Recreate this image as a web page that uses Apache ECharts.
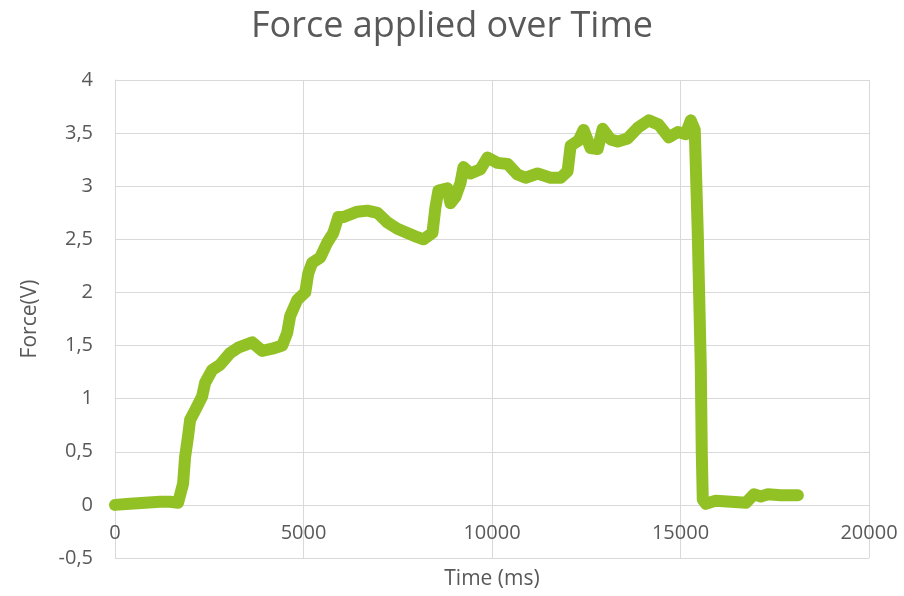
<!DOCTYPE html>
<html>
<head>
<meta charset="utf-8">
<title>Force applied over Time</title>
<script src="https://cdn.jsdelivr.net/npm/echarts@6/dist/echarts.min.js"></script>
<style>
  html, body { margin: 0; padding: 0; background: #ffffff; }
  #chart { width: 904px; height: 596px; }
</style>
</head>
<body>
<div id="chart"></div>
<script>
// Sensor trace: time stamps (ms) and measured force (V)
const timeMs = [
  0, 398, 797, 1195, 1461, 1673, 1726, 1806, 1859, 1939, 1992, 2125, 2311, 2390,
  2576, 2789, 3054, 3267, 3639, 3904, 4170, 4436, 4568, 4648, 4834, 5046, 5126,
  5232, 5445, 5631, 5790, 5923, 6056, 6428, 6693, 6959, 7224, 7490, 7756, 8021,
  8181, 8420, 8499, 8579, 8818, 8898, 9031, 9163, 9243, 9429, 9695, 9880, 10146,
  10412, 10677, 10890, 11208, 11554, 11819, 12005, 12085, 12297, 12430, 12616,
  12802, 12935, 13147, 13333, 13599, 13865, 14157, 14422, 14688, 14927, 15139,
  15272, 15378, 15458, 15538, 15564, 15591, 15671, 15936, 16335, 16733, 16946,
  17131, 17317, 17663, 18114
];
const forceV = [
  0.00, 0.01, 0.02, 0.03, 0.03, 0.02, 0.02, 0.20, 0.45, 0.65, 0.80, 0.89, 1.02, 1.15,
  1.27, 1.32, 1.43, 1.48, 1.53, 1.45, 1.47, 1.50, 1.62, 1.78, 1.93, 2.00, 2.18,
  2.28, 2.33, 2.47, 2.56, 2.71, 2.71, 2.76, 2.77, 2.75, 2.66, 2.60, 2.56, 2.52,
  2.50, 2.56, 2.80, 2.96, 2.98, 2.84, 2.90, 3.03, 3.18, 3.12, 3.16, 3.27, 3.22,
  3.21, 3.11, 3.08, 3.12, 3.08, 3.08, 3.14, 3.38, 3.43, 3.53, 3.36,
  3.35, 3.54, 3.44, 3.42, 3.45, 3.55, 3.62, 3.58, 3.46, 3.51, 3.49,
  3.62, 3.53, 2.56, 1.30, 0.50, 0.05, 0.01, 0.04, 0.03, 0.02, 0.10,
  0.08, 0.10, 0.09, 0.09
];

// Axis ranges and ticks
const xTicks = { min: 0, max: 20000, step: 5000 };
const yTicks = { min: -0.5, max: 4, step: 0.5 };

const textColor = '#595959';
const gridColor = '#D9D9D9';
const lineColor = '#92C125';
const fontFamily = '"Open Sans", "DejaVu Sans", sans-serif';

const CHART_H = 596;
const gridBox = { left: 115, right: 35, top: 80, bottom: 38 };

// Lift the time axis from the plot's bottom edge up to the zero force line
const plotHeight = CHART_H - gridBox.top - gridBox.bottom;
const zeroLift = plotHeight * (0 - yTicks.min) / (yTicks.max - yTicks.min);

const points = timeMs.map((t, i) => [t, forceV[i]]);

const chart = echarts.init(document.getElementById('chart'), null, { renderer: 'canvas' });
chart.setOption({
  animation: false,
  backgroundColor: '#ffffff',
  textStyle: { fontFamily: fontFamily, color: textColor },
  title: {
    text: 'Force applied over Time',
    left: 'center',
    top: 4,
    textStyle: { fontFamily: fontFamily, fontSize: 36, fontWeight: 'normal', color: textColor }
  },
  grid: Object.assign({ containLabel: false, outerBoundsMode: 'none' }, gridBox),
  xAxis: {
    type: 'value',
    min: xTicks.min,
    max: xTicks.max,
    interval: xTicks.step,
    offset: -zeroLift,
    name: 'Time (ms)',
    nameLocation: 'middle',
    nameGap: 64,
    nameTextStyle: { fontSize: 21, color: textColor, fontFamily: fontFamily },
    axisLine: { show: true, onZero: false, lineStyle: { color: gridColor, width: 1 } },
    axisTick: { show: false },
    axisLabel: {
      color: textColor,
      fontSize: 20,
      margin: 18,
      fontFamily: fontFamily,
      formatter: v => String(v)
    },
    splitLine: { show: true, lineStyle: { color: gridColor, width: 1 } }
  },
  yAxis: {
    type: 'value',
    min: yTicks.min,
    max: yTicks.max,
    interval: yTicks.step,
    name: 'Force(V)',
    nameLocation: 'middle',
    nameGap: 74,
    nameRotate: 90,
    nameTextStyle: { fontSize: 21, color: textColor, fontFamily: fontFamily },
    axisLine: { show: true, onZero: false, lineStyle: { color: gridColor, width: 1 } },
    axisTick: { show: false },
    axisLabel: {
      color: textColor,
      fontSize: 20,
      margin: 22,
      fontFamily: fontFamily,
      formatter: v => String(v).replace('.', ',')
    },
    splitLine: { show: true, lineStyle: { color: gridColor, width: 1 } }
  },
  series: [{
    type: 'line',
    data: points,
    showSymbol: false,
    smooth: false,
    lineStyle: { color: lineColor, width: 12, cap: 'round', join: 'round' },
    itemStyle: { color: lineColor }
  }]
});
</script>
</body>
</html>
